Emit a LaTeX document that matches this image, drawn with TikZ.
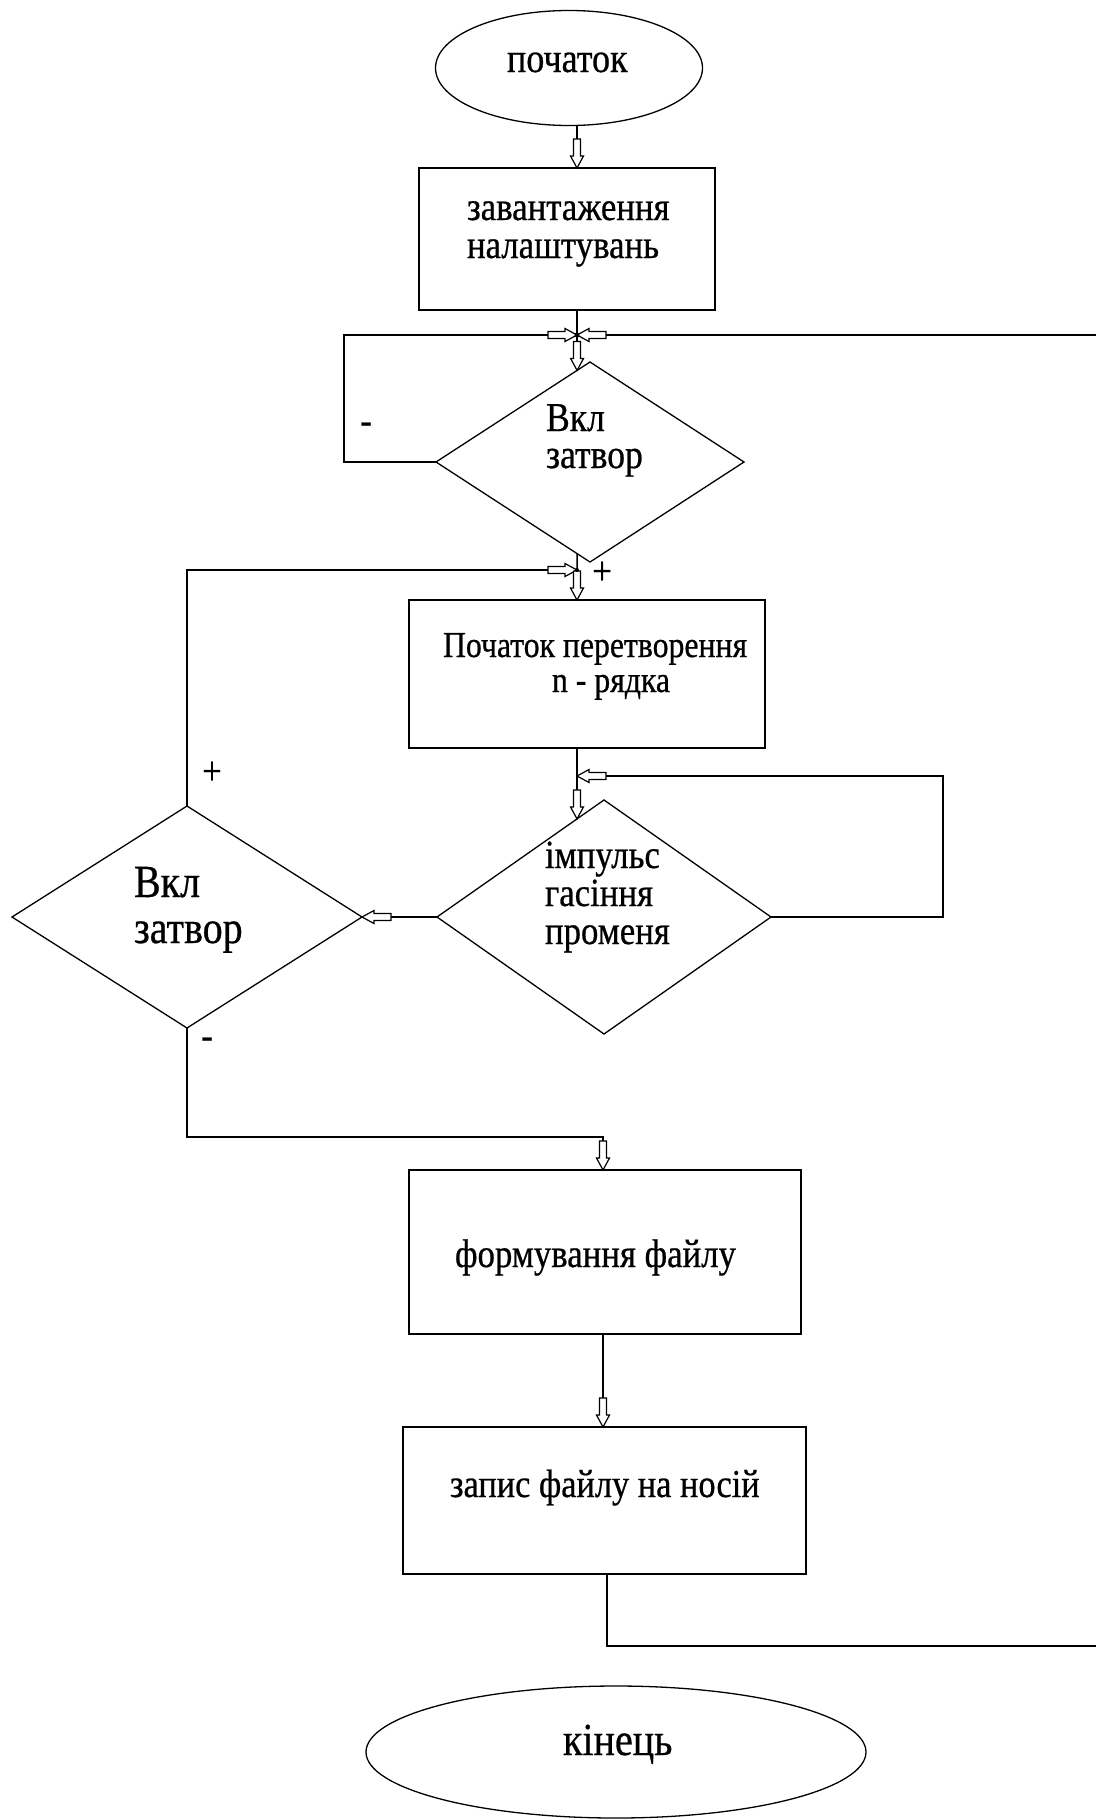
\documentclass[tikz,border=0pt]{standalone}
\usepackage{fontspec}
\setmainfont{Liberation Serif}[FakeStretch=0.87, FakeBold=0.6]
\usetikzlibrary{shapes.geometric,calc,backgrounds}

\tikzset{
  x=1pt, y=1pt,
  every node/.style={inner sep=0pt, outer sep=0pt},
  line/.style={line width=1.6pt, line join=miter},
  box/.style={rectangle, draw, line width=1.6pt, fill=white},
  oval/.style={ellipse, draw, line width=1.3pt, fill=white},
  rhomb/.style={diamond, draw, line width=1.3pt, fill=white},
  txt/.style={anchor=base west, font=\fontsize{#1}{#1}\selectfont},
  sign/.style={font=\fontsize{40}{40}\selectfont},
  blockarrow/.pic={
    \draw[line width=1.2pt, fill=white, line join=miter]
      (0,0) -- (-12,6.5) -- (-12,3.5) -- (-29,3.5) -- (-29,-3.5)
      -- (-12,-3.5) -- (-12,-6.5) -- cycle;
  }
}

\begin{document}
\begin{tikzpicture}
\useasboundingbox (0,0) rectangle (1096,-1820);

% blocks
\node[oval, minimum width=267, minimum height=115] (start) at (569,-68) {};
\node[box, minimum width=296, minimum height=142] (load) at (567,-239) {};
\node[rhomb, minimum width=308, minimum height=200] (gate1) at (590,-462) {};
\node[box, minimum width=356, minimum height=148] (conv) at (587,-674) {};
\node[rhomb, minimum width=334, minimum height=234] (pulse) at (604,-917) {};
\node[rhomb, minimum width=350, minimum height=222] (gate2) at (187,-917) {};
\node[box, minimum width=392, minimum height=164] (form) at (605,-1252) {};
\node[box, minimum width=403, minimum height=147] (write) at (604.5,-1500.5) {};
\node[oval, minimum width=500, minimum height=132] (finish) at (616,-1752) {};

% texts
\node[txt=41.5] (tstart) at (507,-72) {початок};
\node[txt=40] (tload1) at (467,-220) {завантаження};
\node[txt=40] (tload2) at (467,-258) {налаштувань};
\node[txt=41] (tg1a) at (546,-431) {Вкл};
\node[txt=41] (tg1b) at (546,-468) {затвор};
\node[txt=36.5] (tconv1) at (443,-657) {Початок перетворення};
\node[txt=36.5] (tconv2) at (552,-692) {n - рядка};
\node[txt=40] (tp1) at (545,-868) {імпульс};
\node[txt=40] (tp2) at (545,-906) {гасіння};
\node[txt=40] (tp3) at (545,-944) {променя};
\node[txt=46] (tg2a) at (134,-897) {Вкл};
\node[txt=46] (tg2b) at (134,-943) {затвор};
\node[txt=40] (tform) at (455,-1267) {формування файлу};
\node[txt=39.5] (twrite) at (450,-1497) {запис файлу на носій};
\node[txt=46] (tfinish) at (563,-1755) {кінець};

% branch signs
\node[sign] (s1) at (366,-428) {-};
\node[sign] (s2) at (602,-573) {+};
\node[sign] (s3) at (212,-773) {+};
\node[sign] (s4) at (207,-1043) {-};

% junctions and bends
\coordinate (jA) at (577,-335);
\coordinate (lA) at (344,-335);
\coordinate (eA) at (1096,-335);
\coordinate (jB) at (577,-570);
\coordinate (jC) at (577,-776);
\coordinate (rC) at (943,-776);
\coordinate (jD) at (603,-1137);
\coordinate (kE) at (607,-1646);
\coordinate (eE) at (1096,-1646);
\coordinate (g1in) at ($(gate1.north)!0.084!(gate1.west)$);
\coordinate (g1out) at ($(gate1.south)!0.084!(gate1.west)$);
\coordinate (pin) at ($(pulse.north)!0.1617!(pulse.west)$);

\begin{scope}[on background layer]
  \draw[line] (start.south -| jA) -- (load.north -| jA);
  \draw[line] (load.south -| jA) -- (g1in);
  \draw[line] (gate1.west) -- (gate1.west -| lA) -- (lA) -- (eA);
  \draw[line] (g1out) -- (conv.north -| jB);
  \draw[line] (gate2.north) -- (gate2.north |- jB) -- (jB);
  \draw[line] (conv.south -| jC) -- (pin);
  \draw[line] (pulse.east) -- (pulse.east -| rC) -- (rC) -- (jC);
  \draw[line] (pulse.west) -- (gate2.east);
  \draw[line] (gate2.south) -- (gate2.south |- jD) -- (jD) -- (form.north -| jD);
  \draw[line] (form.south -| jD) -- (write.north -| jD);
  \draw[line] (write.south -| kE) -- (kE) -- (eE);
\end{scope}

% arrowheads
\pic[rotate=-90] at (load.north -| jA) {blockarrow};
\pic[rotate=0] at (jA) {blockarrow};
\pic[rotate=180] at (jA) {blockarrow};
\pic[rotate=-90] at (g1in) {blockarrow};
\pic[rotate=0] at (jB) {blockarrow};
\pic[rotate=-90] at (conv.north -| jB) {blockarrow};
\pic[rotate=180] at (jC) {blockarrow};
\pic[rotate=-90] at (pin) {blockarrow};
\pic[rotate=180] at (gate2.east) {blockarrow};
\pic[rotate=-90] at (form.north -| jD) {blockarrow};
\pic[rotate=-90] at (write.north -| jD) {blockarrow};
\fill (jA) circle (2.5);
\fill (jB) circle (2);
\end{tikzpicture}
\end{document}
